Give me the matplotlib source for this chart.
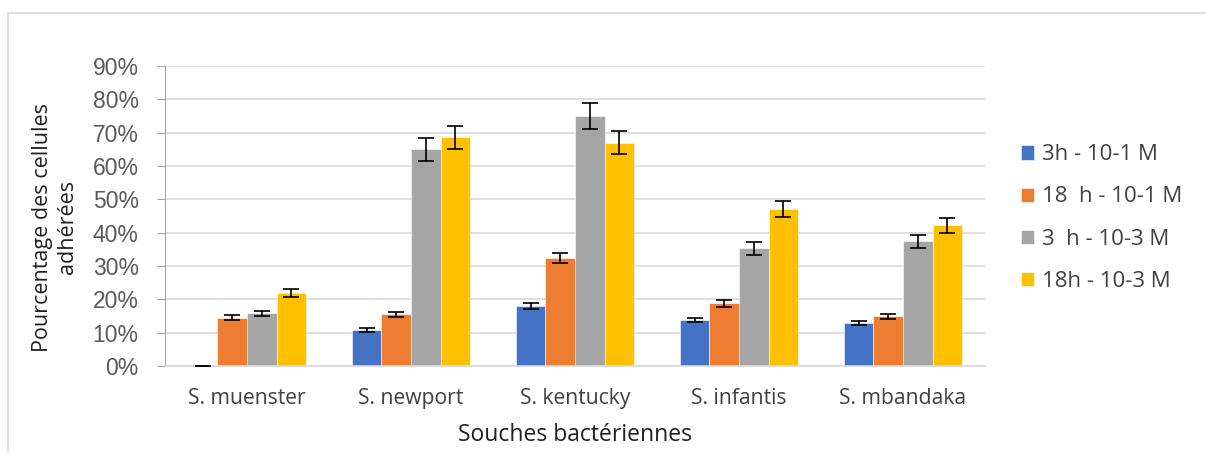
import matplotlib
matplotlib.use("Agg")
import matplotlib.pyplot as plt
import numpy as np
from matplotlib.lines import Line2D
from matplotlib.ticker import PercentFormatter

categories = ["S. muenster", "S. newport", "S. kentucky", "S. infantis", "S. mbandaka"]
series_names = ["3h - 10-1 M", "18  h - 10-1 M", "3  h - 10-3 M", "18h - 10-3 M"]
vals_3h_1 = [0.0, 10.9, 18.0, 13.8, 12.9]
vals_18h_1 = [14.5, 15.5, 32.4, 18.8, 14.9]
vals_3h_3 = [15.8, 65.0, 75.0, 35.3, 37.4]
vals_18h_3 = [22.0, 68.6, 67.0, 47.2, 42.2]
err_3h_1 = [0.0, 0.6, 0.9, 0.7, 0.7]
err_18h_1 = [0.8, 0.8, 1.6, 1.0, 0.8]
err_3h_3 = [0.8, 3.5, 3.8, 1.9, 1.9]
err_18h_3 = [1.2, 3.5, 3.4, 2.4, 2.2]
colors = ["#4472C4", "#ED7D31", "#A5A5A5", "#FFC000"]

values = [vals_3h_1, vals_18h_1, vals_3h_3, vals_18h_3]
errors = [err_3h_1, err_18h_1, err_3h_3, err_18h_3]

W, H = 1206, 453
fig = plt.figure(figsize=(W / 100, H / 100), dpi=100)
ax = fig.add_axes([165 / W, 1 - 366 / H, 820 / W, 300 / H])

# outer frame (left and top)
fig.add_artist(Line2D([8 / W, 8 / W], [0, 1 - 13 / H], transform=fig.transFigure, color="#d9d9d9", lw=1.2))
fig.add_artist(Line2D([8 / W, 1205 / W], [1 - 13 / H, 1 - 13 / H], transform=fig.transFigure, color="#d9d9d9", lw=1.2))

x = np.arange(len(categories))
bw = 0.18
for i, (v, e, c, n) in enumerate(zip(values, errors, colors, series_names)):
    pos = x + (i - 1.5) * bw
    ax.bar(pos, v, bw, color=c, label=n, zorder=2, edgecolor="white", linewidth=0.4)
    ax.errorbar(pos, v, yerr=e, fmt="none", ecolor="black", elinewidth=1.2,
                capsize=6, capthick=1.2, zorder=3)

ax.set_xlim(-0.5, len(categories) - 0.5)
ax.set_ylim(0, 90)
ax.set_yticks(np.arange(0, 91, 10))
ax.yaxis.set_major_formatter(PercentFormatter(decimals=0))
ax.grid(axis="y", color="#d9d9d9", lw=1.2, zorder=0)
for s in ["top", "right"]:
    ax.spines[s].set_visible(False)
ax.spines["left"].set_color("#a6a6a6")
ax.spines["bottom"].set_color("#d9d9d9")
ax.spines["bottom"].set_linewidth(1.2)
ax.tick_params(axis="y", length=6, color="#a6a6a6", labelsize=16.5, labelcolor="#595959", pad=13)
ax.tick_params(axis="x", length=0, labelsize=15.2, labelcolor="#404040", pad=16)
for t in ax.get_yticklabels():
    t.set_fontfamily("Liberation Sans")
ax.set_xticks(x)
ax.set_xticklabels(categories, fontfamily="Open Sans")

fig.text(55 / W, 1 - 227 / H, "Pourcentage des cellules\nadhérées", rotation=90,
         ha="center", va="center", fontsize=15.5, color="#202020", fontfamily="Open Sans",
         linespacing=1.3)
fig.text(575 / W, 1 - 435 / H, "Souches bactériennes", ha="center", va="center",
         fontsize=16.5, color="#202020", fontfamily="Open Sans")

leg = fig.legend(loc="center left", bbox_to_anchor=(1001 / W, 1 - 218 / H), frameon=False,
                 handlelength=0.6, handleheight=0.6, handletextpad=0.35,
                 labelspacing=0.95, prop={"family": "Open Sans", "size": 16})
for t in leg.get_texts():
    t.set_color("#404040")

fig.savefig("out.png", dpi=100)
